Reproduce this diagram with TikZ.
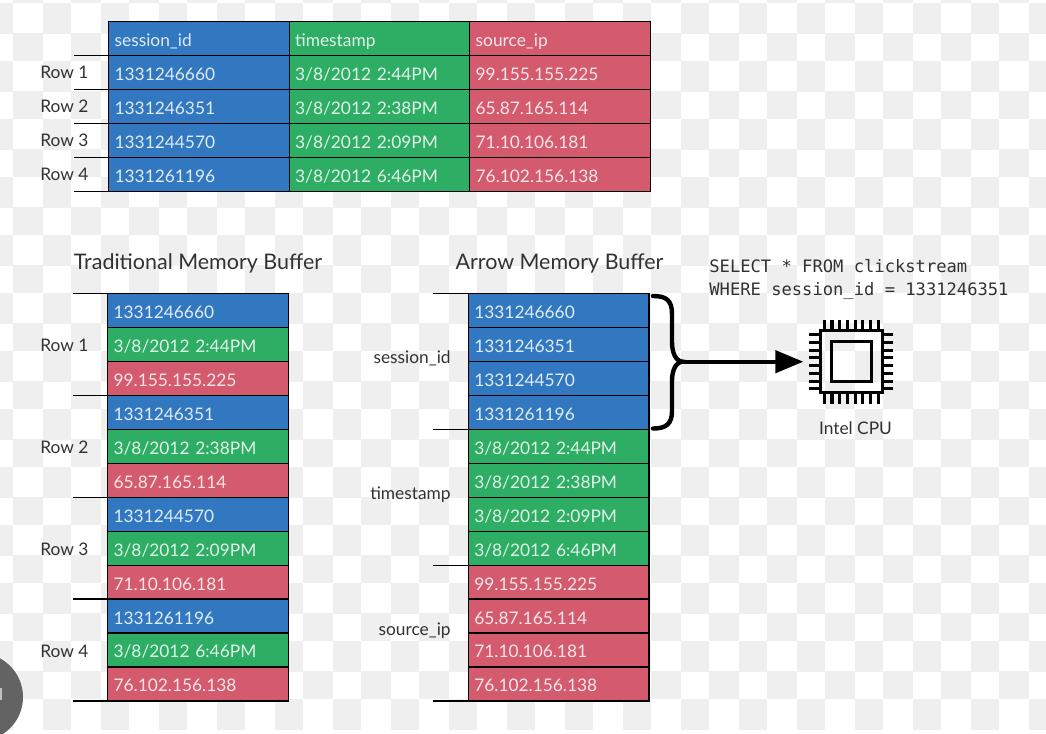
\documentclass[tikz,border=0pt]{standalone}
\usepackage{xcolor}
\usepackage{fontspec}
\setmainfont{Lato}
\newfontfamily\sqlfont{DejaVu Sans Mono}
\usetikzlibrary{arrows.meta}
\definecolor{cellblue}{RGB}{49,120,193}
\definecolor{cellgreen}{RGB}{46,173,100}
\definecolor{cellred}{RGB}{212,90,110}
\definecolor{checker}{RGB}{239,239,239}
\definecolor{labelgray}{RGB}{50,50,50}

\begin{document}
\begin{tikzpicture}[x=0.75pt, y=-0.75pt, >= stealth,
                    node distance=25.46pt, semithick]
\tikzstyle{cell}=[shape=rectangle, draw=black, line width=0.9pt, outer sep=0pt,
                    inner xsep=4.4pt, inner ysep=0pt, minimum height=25.46pt,
                    text width=126.6pt, align=left, text height=12.6pt, text depth=0.6pt,
                    font=\fontsize{13}{13}\selectfont]
\tikzstyle{bluecell}=[cell, fill=cellblue, text=cellblue!15!white]
\tikzstyle{greencell}=[cell, fill=cellgreen, text=cellgreen!15!white]
\tikzstyle{redcell}=[cell, fill=cellred, text=cellred!15!white]
\tikzstyle{across}=[node distance=135.4pt]
\tikzstyle{rowtext}=[text=labelgray, font=\fontsize{13}{13}\selectfont, node distance=100.2pt]
\tikzstyle{title}=[text=labelgray, font=\fontsize{16.1}{16.1}\selectfont]
\tikzstyle{columntext}=[text=labelgray, anchor=east, font=\fontsize{13}{13}\selectfont]
\tikzstyle{tick}=[black, line width=0.9pt]
\tikzstyle{chip}=[black, line width=2.3pt]
  \useasboundingbox (0,0) rectangle (1046,733);

  % checker background
  \foreach \i in {-1,...,18} {
    \foreach \j in {0,...,12} {
      \fill[checker] (12.7+58*\i,33.3+58*\j-58) rectangle ++(30.6,27.7);
      \fill[checker] (43.3+58*\i,61+58*\j-58) rectangle ++(27.6,30.7);
    }
  }

  % round shape in the corner
  \begin{scope}
    \clip (0,0) rectangle (1046,733);
    \fill[black!61] (-21,697) circle (44);
    \fill[black!25] (0,688) rectangle (1.5,700);
  \end{scope}

  % table
  \node[bluecell] (hid) at (199,38.5) {session\_id};
  \node[greencell, across] (hts) [right of=hid] {timestamp};
  \node[redcell, across] (hip) [right of=hts] {source\_ip};

  \node[bluecell] (tid1) [below of=hid] {1331246660};
  \node[bluecell] (tid2) [below of=tid1] {1331246351};
  \node[bluecell] (tid3) [below of=tid2] {1331244570};
  \node[bluecell] (tid4) [below of=tid3] {1331261196};
  \node[greencell] (tts1) [below of=hts] {3/8/2012 2:44PM};
  \node[greencell] (tts2) [below of=tts1] {3/8/2012 2:38PM};
  \node[greencell] (tts3) [below of=tts2] {3/8/2012 2:09PM};
  \node[greencell] (tts4) [below of=tts3] {3/8/2012 6:46PM};
  \node[redcell] (tip1) [below of=hip] {99.155.155.225};
  \node[redcell] (tip2) [below of=tip1] {65.87.165.114};
  \node[redcell] (tip3) [below of=tip2] {71.10.106.181};
  \node[redcell] (tip4) [below of=tip3] {76.102.156.138};

  \node[rowtext, node distance=100.95pt] (trow1) [left of=tid1] {Row 1};
  \node[rowtext, node distance=100.95pt] (trow2) [left of=tid2] {Row 2};
  \node[rowtext, node distance=100.95pt] (trow3) [left of=tid3] {Row 3};
  \node[rowtext, node distance=100.95pt] (trow4) [left of=tid4] {Row 4};
  \draw[tick] (tid1.north west) -- ++(-35,0);
  \draw[tick] (tid2.north west) -- ++(-35,0);
  \draw[tick] (tid3.north west) -- ++(-35,0);
  \draw[tick] (tid4.north west) -- ++(-35,0);
  \draw[tick] (tid4.south west) -- ++(-35,0);

  % traditional buffer
  \node[title] (ttitle) at (198,263) {Traditional Memory Buffer};
  \node[bluecell] (a1) at (198,310.5) {1331246660};
  \node[greencell] (a2) [below of=a1] {3/8/2012 2:44PM};
  \node[redcell] (a3) [below of=a2] {99.155.155.225};
  \node[bluecell] (a4) [below of=a3] {1331246351};
  \node[greencell] (a5) [below of=a4] {3/8/2012 2:38PM};
  \node[redcell] (a6) [below of=a5] {65.87.165.114};
  \node[bluecell] (a7) [below of=a6] {1331244570};
  \node[greencell] (a8) [below of=a7] {3/8/2012 2:09PM};
  \node[redcell] (a9) [below of=a8] {71.10.106.181};
  \node[bluecell] (a10) [below of=a9] {1331261196};
  \node[greencell] (a11) [below of=a10] {3/8/2012 6:46PM};
  \node[redcell] (a12) [below of=a11] {76.102.156.138};

  \node[rowtext, yshift=-1pt] (arow1) [left of=a2] {Row 1};
  \node[rowtext, yshift=-1pt] (arow2) [left of=a5] {Row 2};
  \node[rowtext, yshift=-1pt] (arow3) [left of=a8] {Row 3};
  \node[rowtext, yshift=-1pt] (arow4) [left of=a11] {Row 4};
  \draw[tick] (a1.north west) -- ++(-35,0);
  \draw[tick] (a4.north west) -- ++(-35,0);
  \draw[tick] (a7.north west) -- ++(-35,0);
  \draw[tick] (a10.north west) -- ++(-35,0);
  \draw[tick] (a12.south west) -- ++(-35,0);

  % arrow buffer
  \node[title] (btitle) at (559.5,263) {Arrow Memory Buffer};
  \node[bluecell] (b1) at (558.7,310.5) {1331246660};
  \node[bluecell] (b2) [below of=b1] {1331246351};
  \node[bluecell] (b3) [below of=b2] {1331244570};
  \node[bluecell] (b4) [below of=b3] {1331261196};
  \node[greencell] (b5) [below of=b4] {3/8/2012 2:44PM};
  \node[greencell] (b6) [below of=b5] {3/8/2012 2:38PM};
  \node[greencell] (b7) [below of=b6] {3/8/2012 2:09PM};
  \node[greencell] (b8) [below of=b7] {3/8/2012 6:46PM};
  \node[redcell] (b9) [below of=b8] {99.155.155.225};
  \node[redcell] (b10) [below of=b9] {65.87.165.114};
  \node[redcell] (b11) [below of=b10] {71.10.106.181};
  \node[redcell] (b12) [below of=b11] {76.102.156.138};

  \node[columntext] (bid) at (455.5,358.5) {session\_id};
  \node[columntext] (bts) at (455.5,494.5) {timestamp};
  \node[columntext] (bip) at (455.5,630.5) {source\_ip};
  \draw[tick] (b1.north west) -- ++(-35,0);
  \draw[tick] (b5.north west) -- ++(-35,0);
  \draw[tick] (b9.north west) -- ++(-35,0);
  \draw[tick] (b12.south west) -- ++(-35,0);

  % query and cpu
  \node[anchor=west, align=left, text=labelgray, inner sep=0pt,
        font=\sqlfont\fontsize{12.85}{17}\selectfont] (query) at (709,279.2)
        {SELECT * FROM clickstream\\WHERE session\_id = 1331246351};
  \node[chip, draw, shape=rectangle, outer sep=0pt, inner sep=0pt,
        minimum size=46.5pt] (cpu) at (851.3,361.7) {};
  \node[chip, draw, shape=rectangle, outer sep=0pt, inner sep=0pt,
        minimum size=30pt] (core) at (cpu) {};
  \node[text=labelgray, font=\fontsize{13}{13}\selectfont] (cpulabel) at (855.5,428) {Intel CPU};
  \foreach \k in {-3.5,-2.5,...,3.5} {
    \draw[chip] ([xshift=\k*5.8pt]cpu.north) -- ++(0,-11);
    \draw[chip] ([xshift=\k*5.8pt]cpu.south) -- ++(0,11);
    \draw[chip] ([yshift=\k*5.8pt]cpu.west) -- ++(-11,0);
    \draw[chip] ([yshift=\k*5.8pt]cpu.east) -- ++(11,0);
  }

  % brace
  \coordinate (bracetop) at (653,296);
  \coordinate (bracetip) at (683,361.7);
  \coordinate (bracebot) at (653,428.5);
  \draw[line width=3.3pt, line cap=round, black] (bracetop)
    .. controls (666,296) and (672,300) .. (672,314) -- (672,342)
    .. controls (672,353) and (676,361.7) .. (bracetip)
    .. controls (676,361.7) and (672,370) .. (672,381) -- (672,411)
    .. controls (672,424) and (666,428.5) .. (bracebot);
  \draw[-{Triangle[length=21pt,width=16.5pt]}, line width=3.2pt, black,
        shorten >=12.7pt] (bracetip) -- (cpu.west);
\end{tikzpicture}
\end{document}
